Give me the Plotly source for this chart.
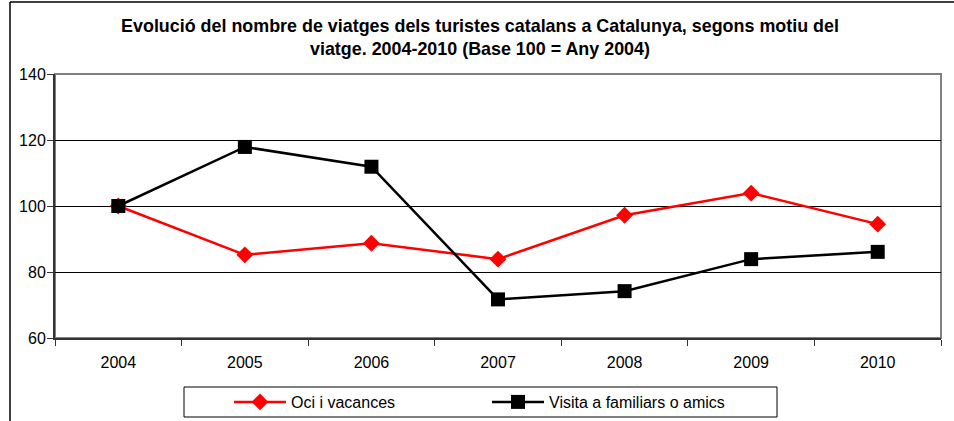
import plotly.graph_objects as go

years = ["2004", "2005", "2006", "2007", "2008", "2009", "2010"]
oci = [100, 85.2, 88.7, 83.9, 97.2, 103.9, 94.5]
visita = [100, 117.9, 111.9, 71.7, 74.2, 83.9, 86.1]
series_names = ["Oci i vacances", "Visita a familiars o amics"]
title_text = ("Evolució del nombre de viatges dels turistes catalans a Catalunya, segons motiu del"
              "<br>viatge. 2004-2010 (Base 100 = Any 2004)")

W, H = 954, 421
L, R, T, B = 55, 941, 74, 338

def px(x):
    return (x - L) / (R - L)

def py(y):
    return (B - y) / (B - T)

fig = go.Figure()
fig.add_trace(go.Scatter(
    x=years, y=oci, name=series_names[0], mode="lines+markers",
    line=dict(color="#FF0000", width=2.5),
    marker=dict(symbol="diamond", size=13, color="#FF0000"),
))
fig.add_trace(go.Scatter(
    x=years, y=visita, name=series_names[1], mode="lines+markers",
    line=dict(color="#000000", width=2.5),
    marker=dict(symbol="square", size=14, color="#000000"),
))

font = "Liberation Sans, Arial, sans-serif"
fig.update_layout(
    width=W, height=H,
    margin=dict(l=L, r=W - R, t=T, b=H - B, pad=0, autoexpand=False),
    paper_bgcolor="white", plot_bgcolor="white",
    font=dict(family=font, size=16, color="black"),
    title=dict(text="<b>" + title_text + "</b>", x=480 / W, xanchor="center",
               xref="container", yref="container", y=1 - 32 / H, yanchor="top",
               font=dict(family=font, size=17.9, color="black")),
    showlegend=True,
    legend=dict(orientation="h", xref="container", yref="container",
                x=229 / W, xanchor="left", y=1 - 402 / H, yanchor="middle",
                bgcolor="rgba(0,0,0,0)", borderwidth=0, font=dict(size=16),
                itemwidth=52, entrywidth=191, entrywidthmode="pixels",
                traceorder="normal"),
    xaxis=dict(type="category", categoryorder="array", categoryarray=years,
               range=[-0.5, 6.5], tickson="boundaries", ticks="outside", ticklen=6,
               tickcolor="#333333", showline=True, linecolor="#333333", linewidth=2,
               showgrid=False, zeroline=False, fixedrange=True,
               tickfont=dict(size=16), ticklabelstandoff=9),
    yaxis=dict(range=[60, 140], dtick=20, ticks="outside", ticklen=6,
               tickcolor="#333333", showline=True, linecolor="#333333", linewidth=2,
               showgrid=True, gridcolor="#000000", gridwidth=1, zeroline=False,
               tickfont=dict(size=16), ticklabelstandoff=-2),
    shapes=[
        # plot area border (gray)
        dict(type="rect", xref="paper", yref="paper", x0=0, x1=1, y0=0, y1=1,
             line=dict(color="#808080", width=2), layer="below"),
        # legend box
        dict(type="rect", xref="paper", yref="paper", x0=px(184), x1=px(777),
             y0=py(417), y1=py(387), line=dict(color="#000000", width=1)),
        # outer chart border (top and left)
        dict(type="line", xref="paper", yref="paper", x0=px(10), x1=px(960),
             y0=py(2), y1=py(2), line=dict(color="#000000", width=1.5)),
        dict(type="line", xref="paper", yref="paper", x0=px(10), x1=px(10),
             y0=py(2), y1=py(430), line=dict(color="#000000", width=1.5)),
    ],
)

fig.write_html("out.html", config={"displayModeBar": False},
               post_script="document.body.style.margin='0';")
